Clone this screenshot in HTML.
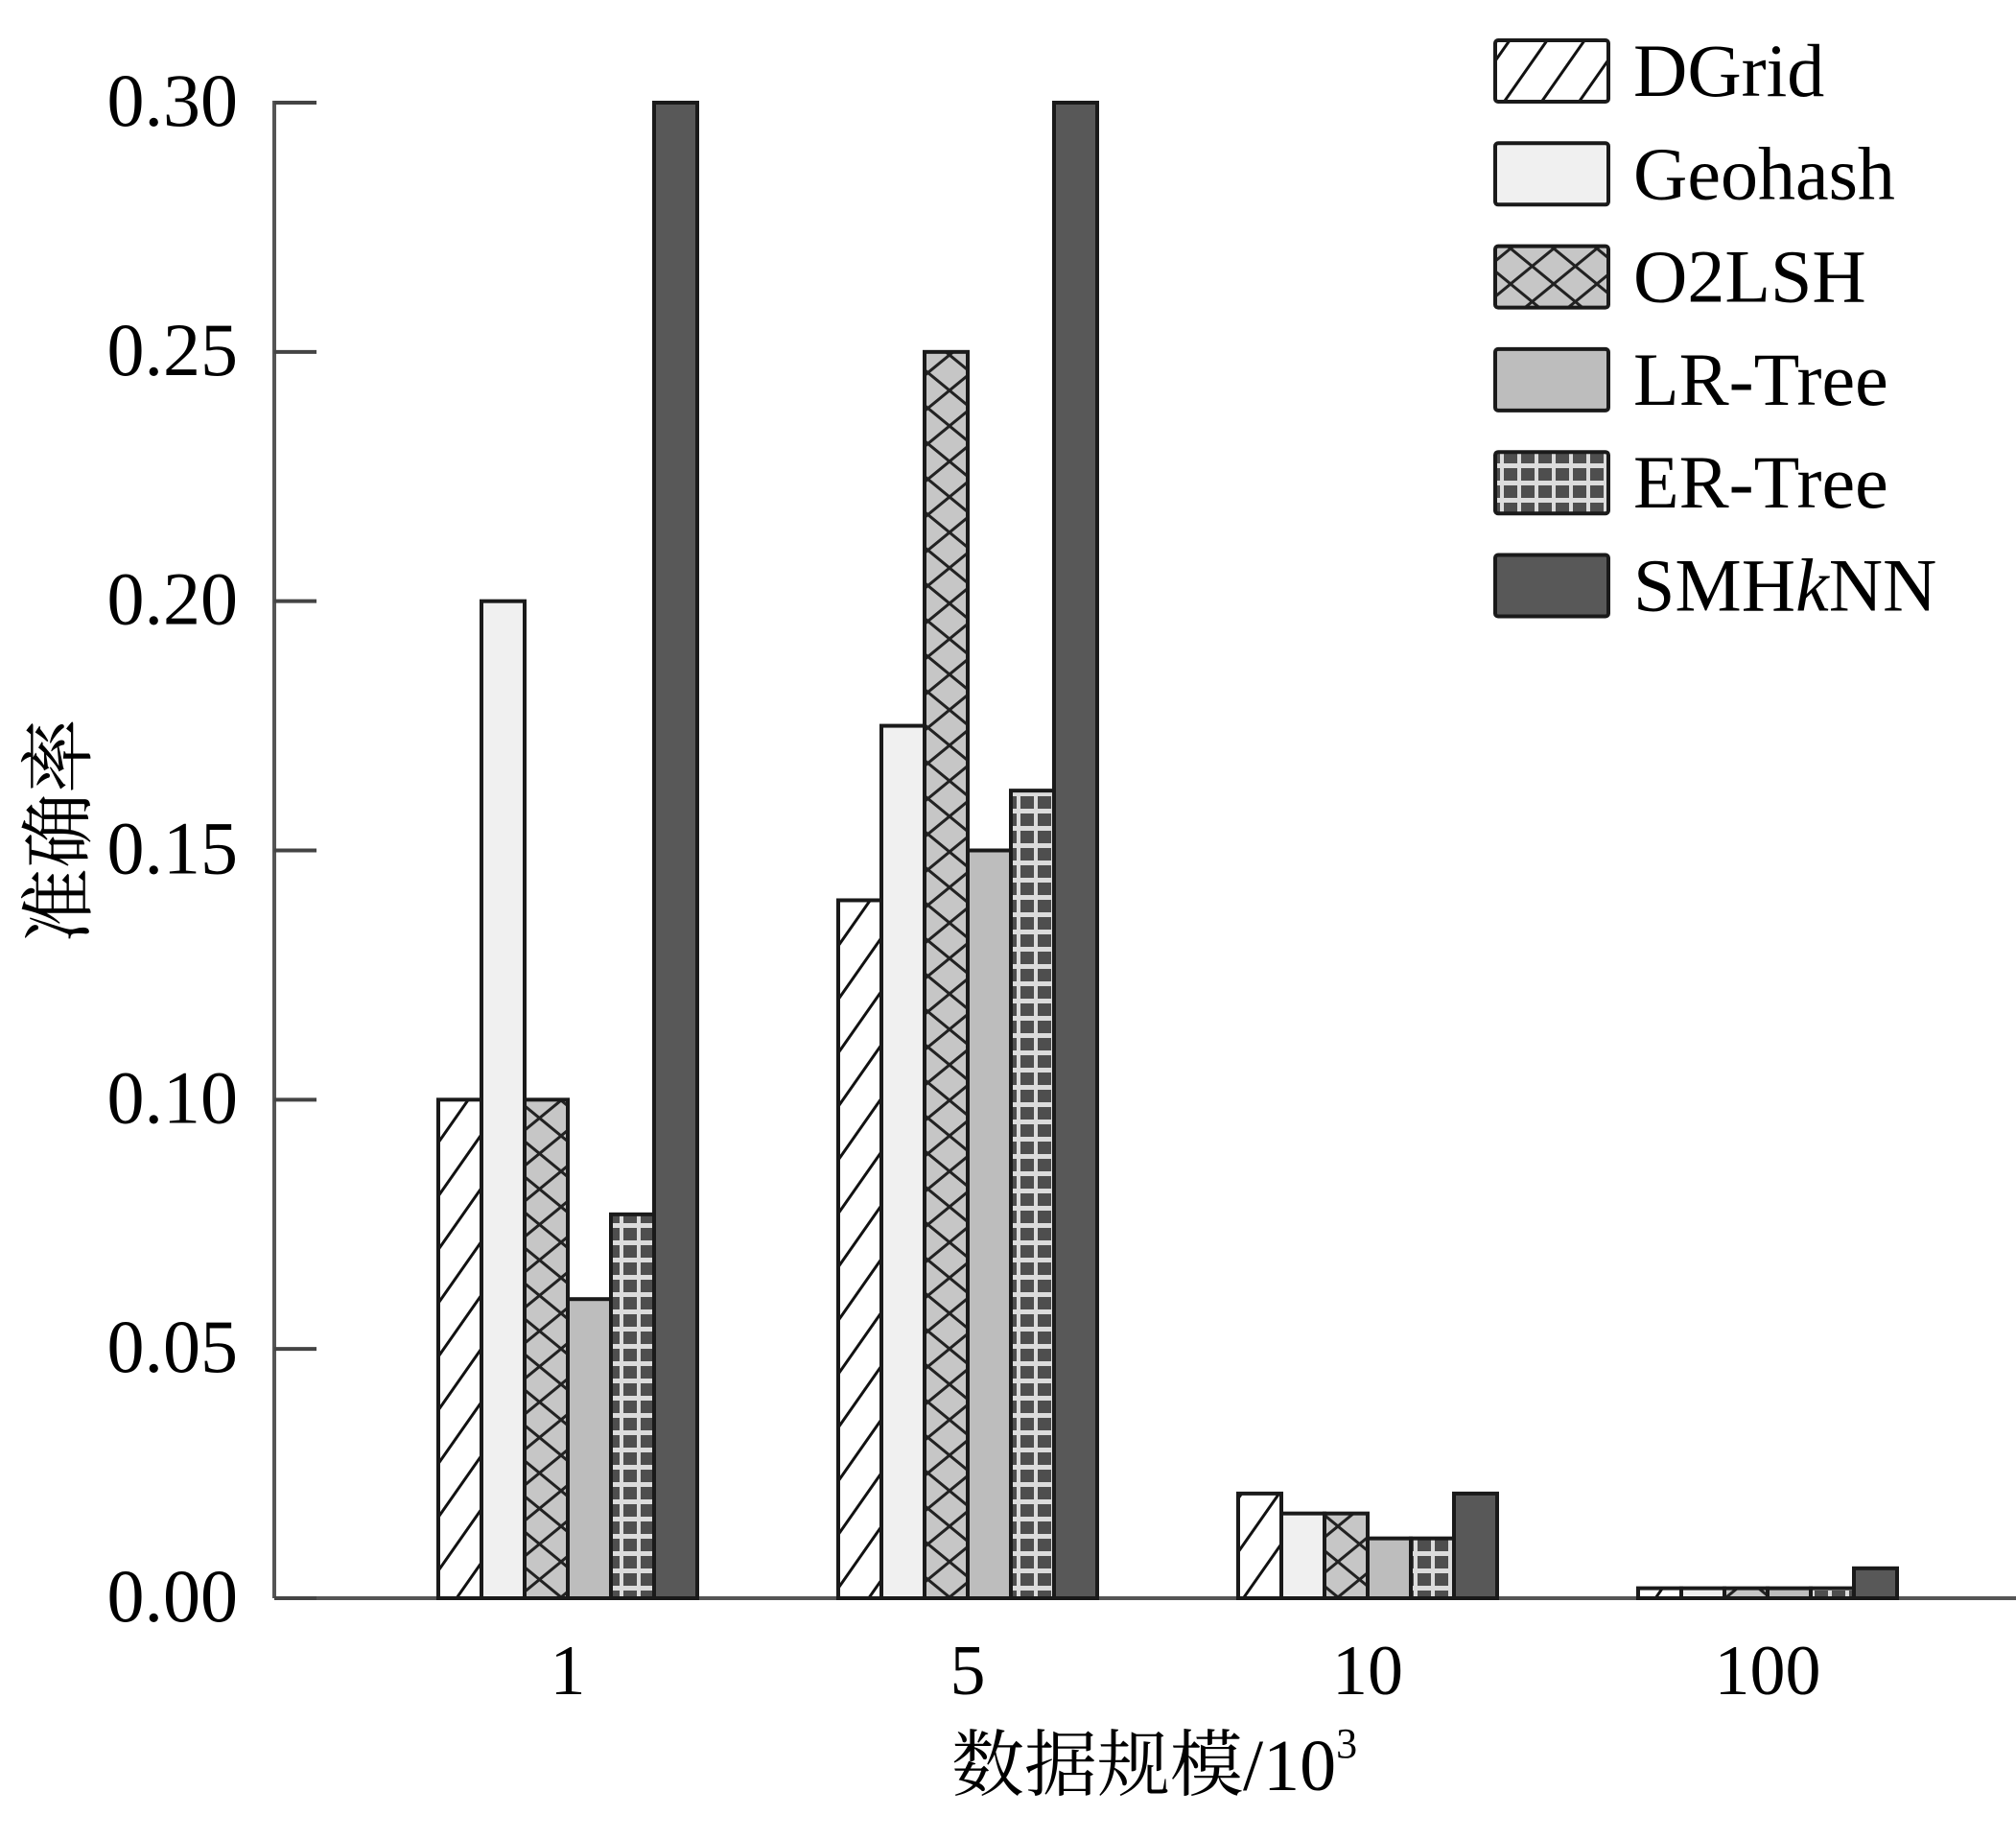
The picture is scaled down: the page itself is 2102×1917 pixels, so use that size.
<!DOCTYPE html>
<html><head><meta charset="utf-8">
<style>
html,body{margin:0;padding:0;background:#fff;}
svg{display:block;}
text{font-family:"Liberation Serif","Noto Serif CJK SC",serif;fill:#000;}
</style></head>
<body>
<svg id="chart" width="2102" height="1917" viewBox="0 0 2102 1917" xmlns="http://www.w3.org/2000/svg">
<defs>
<pattern id="p-diag" patternUnits="userSpaceOnUse" width="32" height="32" patternTransform="rotate(35)">
<rect width="32" height="32" fill="#fff"/><line x1="0" y1="0" x2="0" y2="32" stroke="#111" stroke-width="6"/>
</pattern>
<pattern id="p-cross" patternUnits="userSpaceOnUse" width="45" height="37">
<rect width="45" height="37" fill="#c6c6c6"/>
<line x1="0" y1="0" x2="45" y2="37" stroke="#222" stroke-width="3"/>
<line x1="45" y1="0" x2="0" y2="37" stroke="#222" stroke-width="3"/>
</pattern>
<pattern id="p-grid" patternUnits="userSpaceOnUse" width="18" height="18">
<rect width="18" height="18" fill="#dcdcdc"/><rect x="2" y="2" width="14" height="13" fill="#4e4e4e"/>
</pattern>
</defs>
<g id="plot"></g>
</svg>
<script>
const categories = ["1","5","10","100"];
const seriesNames = ["DGrid","Geohash","O2LSH","LR-Tree","ER-Tree","SMHkNN"];
const dgrid   = [0.100, 0.140, 0.021, 0.002];
const geohash = [0.200, 0.175, 0.017, 0.002];
const o2lsh   = [0.100, 0.250, 0.017, 0.002];
const lrtree  = [0.060, 0.150, 0.012, 0.002];
const ertree  = [0.077, 0.162, 0.012, 0.002];
const smhknn  = [0.300, 0.300, 0.021, 0.006];
const yTicks = [0, 0.05, 0.10, 0.15, 0.20, 0.25, 0.30];
const yTickLabels = ["0.00","0.05","0.10","0.15","0.20","0.25","0.30"];

const NS = "http://www.w3.org/2000/svg";
const g = document.getElementById('plot');
const X0 = 286, Y0 = 1666, YTOP = 107, YMAX = 0.30;
const yScale = v => Y0 - v / YMAX * (Y0 - YTOP);
const catCenter = i => 592 + i * 417;
const BW = 45;
const fills = ["url(#p-diag)","#f0f0f0","url(#p-cross)","#bdbdbd","url(#p-grid)","#585858"];
const allSeries = [dgrid, geohash, o2lsh, lrtree, ertree, smhknn];
function mk(tag, attrs){const e=document.createElementNS(NS,tag);for(const k in attrs)e.setAttribute(k,attrs[k]);g.appendChild(e);return e;}

let e = mk('line',{x1:X0,y1:YTOP-2,x2:X0,y2:Y0,stroke:'#555','stroke-width':4});


e = mk('line',{x1:X0,y1:Y0,x2:2102,y2:Y0,stroke:'#555','stroke-width':4});



yTicks.forEach((t,i)=>{
  const y = yScale(t);
  const tk = mk('line',{x1:X0,y1:y,x2:X0+44,y2:y,stroke:'#444','stroke-width':4});
  
  
  const tx = mk('text',{x:248,y:y+24,'text-anchor':'end','font-size':78});
  tx.textContent = yTickLabels[i];
  
  
});

allSeries.forEach((s,si)=>{
  s.forEach((v,ci)=>{
    const x = catCenter(ci) - 3*BW + si*BW;
    const y = yScale(v);
    const r = mk('rect',{x:x,y:y,width:BW,height:Y0-y,fill:fills[si],stroke:'#1a1a1a','stroke-width':4});
    
    
  });
});

categories.forEach((c,i)=>{
  const t = mk('text',{x:catCenter(i),y:1766,'text-anchor':'middle','font-size':74});
  t.textContent = c;
  
  
});

seriesNames.forEach((n,i)=>{
  const y = 42 + i*107.3;
  const r = mk('rect',{x:1559,y:y,width:118,height:64,rx:3,fill:fills[i],stroke:'#1a1a1a','stroke-width':4});
  
  
  const t = mk('text',{x:1703,y:y+58,'font-size':78});
  if(n==="SMHkNN"){
    t.innerHTML = 'SMH<tspan font-style="italic">k</tspan>NN';
  } else t.textContent = n;
  
  
});

let yt = mk('text',{x:0,y:0,'font-size':78,'text-anchor':'middle',transform:'translate(88,866) rotate(-90)'});
yt.textContent = '准确率';


let xt = mk('text',{x:992,y:1866,'font-size':76});
xt.innerHTML = '数据规模/10<tspan font-size="44" dy="-34">3</tspan>';


</script>
</body></html>
